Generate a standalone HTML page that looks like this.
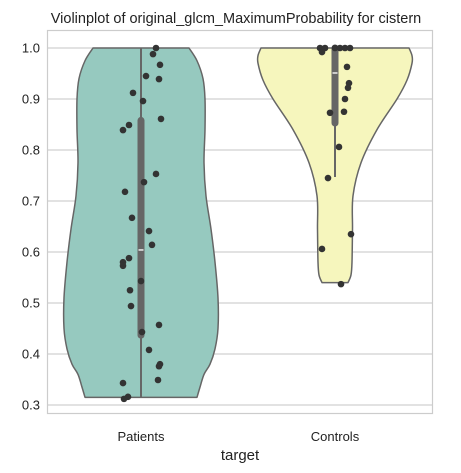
<!DOCTYPE html>
<html><head><meta charset="utf-8"><style>
body{margin:0;background:#fff;}
svg{display:block;font-family:"Liberation Sans","DejaVu Sans",sans-serif;}
</style></head><body>
<svg id="chart" width="461" height="473">
<rect x="0" y="0" width="461" height="473" fill="#fff"/>
<text x="236" y="23" text-anchor="middle" font-size="14.5" fill="#222">Violinplot of original_glcm_MaximumProbability for cistern</text>
<g id="grid"></g>
<g id="violins"></g>
<g id="points"></g>
<rect x="47.5" y="30.5" width="385" height="383" fill="none" stroke="#ccc" stroke-width="1.2"/>
<g id="ticks"></g>
<text x="240" y="460" text-anchor="middle" font-size="15" fill="#222">target</text>
</svg>
<script>
const categories = ["Patients","Controls"];
const yTicks = [0.3,0.4,0.5,0.6,0.7,0.8,0.9,1.0];
const patientProfileV = [1.0,0.975,0.94,0.9,0.84,0.775,0.71,0.645,0.58,0.51,0.45,0.41,0.38,0.36,0.335,0.315];
const patientProfileW = [48,56,62,64,64,63,65,70,74,77,77,74,69,63,59,56];
const controlProfileV = [1.0,0.985,0.97,0.937,0.9,0.84,0.775,0.71,0.645,0.58,0.555,0.54];
const controlProfileW = [74,77,77,72,62,42,26,18,17.5,17,16,13];
const patientBox = [0.315,0.437,0.604,0.858,1.0];
const controlBox = [0.747,0.853,0.951,1.0,1.0];
const patientValues = [1.0,0.988,0.967,0.945,0.939,0.912,0.896,0.861,0.849,0.839,0.753,0.737,0.718,0.667,0.641,0.614,0.588,0.580,0.573,0.543,0.525,0.494,0.457,0.443,0.408,0.380,0.376,0.349,0.343,0.316,0.312];
const patientJitter = [15,12,19,5,18,-8,2,20,-12,-18,15,3,-16,-9,8,11,-12,-18,-18,0,-11,-10,18,1,8,19,18,17,-18,-13,-17];
const controlValues = [1.0,0.992,1.0,1.0,1.0,1.0,1.0,0.963,0.931,0.922,0.900,0.873,0.875,0.806,0.745,0.635,0.606,0.537];
const controlJitter = [-15,-13,-10,0,5,10,15,12,14,13,10,-5,9,4,-7,16,-13,6];

const svg = document.getElementById('chart');
const NS = 'http://www.w3.org/2000/svg';
const plotL = 47, plotR = 432;
function yS(v){ return 48 + (1 - v) * 510; }
function xS(i){ return 141 + i * 194; }
function mk(tag, attrs, parent){ const e = document.createElementNS(NS, tag); for (const k in attrs) e.setAttribute(k, attrs[k]); parent.appendChild(e); return e; }

const grid = document.getElementById('grid'), ticks = document.getElementById('ticks');
yTicks.forEach(t => {
  const l = mk('line', {x1: plotL, x2: plotR, y1: yS(t), y2: yS(t), stroke: '#d0d0d0', 'stroke-width': 1.2}, grid);
  
  
  const tx = mk('text', {x: 40, y: yS(t) + 4.5, 'text-anchor': 'end', 'font-size': 13, fill: '#222'}, ticks);
  tx.textContent = t.toFixed(1);
  
  
});
categories.forEach((c, i) => {
  const tx = mk('text', {x: xS(i), y: 441, 'text-anchor': 'middle', 'font-size': 13, fill: '#222'}, ticks);
  tx.textContent = c;
  
  
});

function smooth(pts){
  let d = 'M' + pts[0][0] + ',' + pts[0][1];
  for (let k = 0; k < pts.length - 1; k++) {
    const p0 = pts[Math.max(k - 1, 0)], p1 = pts[k], p2 = pts[k + 1], p3 = pts[Math.min(k + 2, pts.length - 1)];
    const c1 = [p1[0] + (p2[0] - p0[0]) / 6, p1[1] + (p2[1] - p0[1]) / 6];
    const c2 = [p2[0] - (p3[0] - p1[0]) / 6, p2[1] - (p3[1] - p1[1]) / 6];
    d += ' C' + c1[0] + ',' + c1[1] + ' ' + c2[0] + ',' + c2[1] + ' ' + p2[0] + ',' + p2[1];
  }
  return d;
}

const vg = document.getElementById('violins');
function violin(i, pv, pw, fill, box, name){
  const cx = xS(i);
  const right = pv.map((v, k) => [cx + pw[k], yS(v)]);
  const left = pv.map((v, k) => [cx - pw[k], yS(v)]).reverse();
  let d = smooth(right) + ' L' + left[0][0] + ',' + left[0][1] + smooth(left).replace(/^M[^C]*/, ' ') + 'Z';
  const p = mk('path', {d: d, fill: fill, stroke: '#666', 'stroke-width': 1.5, 'stroke-linejoin': 'round'}, vg);
  
  
  const w = mk('line', {x1: cx, x2: cx, y1: yS(box[0]), y2: yS(box[4]), stroke: '#666', 'stroke-width': 2}, vg);
  
  
  const b = mk('line', {x1: cx, x2: cx, y1: yS(box[1]), y2: yS(box[3]), stroke: '#666', 'stroke-width': 7, 'stroke-linecap': 'round'}, vg);
  
  
  const m = mk('line', {x1: cx - 2.5, x2: cx + 2.5, y1: yS(box[2]), y2: yS(box[2]), stroke: '#eee', 'stroke-width': 1.5}, vg);
  
  
}
violin(0, patientProfileV, patientProfileW, '#96c9bf', patientBox, 'patients');
violin(1, controlProfileV, controlProfileW, '#f6f6bd', controlBox, 'controls');

const pg = document.getElementById('points');
function pts(i, vals, jit, name){
  vals.forEach((v, k) => {
    const c = mk('circle', {cx: xS(i) + jit[k], cy: yS(v), r: 3.3, fill: '#333'}, pg);
    
    
  });
}
pts(0, patientValues, patientJitter, 'patients');
pts(1, controlValues, controlJitter, 'controls');
</script>
</body></html>
